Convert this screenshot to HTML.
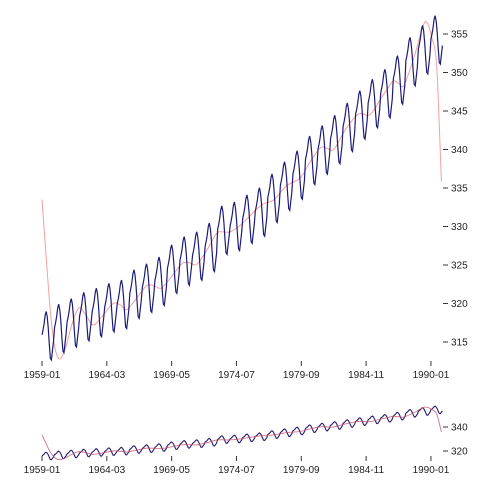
<!DOCTYPE html>
<html><head><meta charset="utf-8"><style>
body{margin:0;background:#fff;}
svg{display:block;font-family:"Liberation Sans",Arial,sans-serif;}
</style></head><body>
<svg id="chart" width="502" height="486"></svg>
<script>
const yearlyMean=[315.97,316.91,317.64,318.45,318.99,319.62,320.04,321.38,322.16,323.04,324.62,325.68,326.32,327.45,329.68,330.18,331.11,332.04,333.83,335.40,336.84,338.75,340.11,341.45,343.05,344.65,346.12,347.42,349.19,351.57,353.12,354.39];
const seasonal=[-0.05,0.6,1.4,2.5,3.0,2.3,0.8,-1.3,-3.1,-3.3,-2.1,-0.9];
const smoothMonths=[0,4,8,12,16.5,22,28,35,42,49,58,68,75,81,90,100,107,114,124,134,141,148,158,167,173,180,190,197,210,222,234,247,256,266,272,279,288,295,302.5,308,312,318,323,330,336,341,345.6,351,357,362,366,369,372.7,377.5,382];
const smoothVals=[333.5,326,319,314.5,312.8,314,317,319.4,318.5,317.2,318.4,320.0,319.8,319.2,320.6,322.3,322.3,322.0,323.5,325.2,325.3,325.1,327,329.1,329.3,329.3,330.2,331.1,332.8,333.5,335.3,336.3,338.3,340.2,340.2,340.0,342.1,343.5,344.6,344.6,344.4,345.2,346.4,347.8,348.9,348.6,348.2,350,352.5,355,356.5,356.3,354.6,350.8,335.8];
const xTickLabels=["1959-01","1964-03","1969-05","1974-07","1979-09","1984-11","1990-01"];
const mainYTicks=[315,320,325,330,335,340,345,350,355];
const subYTicks=[320,340];

const NS="http://www.w3.org/2000/svg";
const svg=document.getElementById('chart');
function el(t,a){const e=document.createElementNS(NS,t);for(const k in a)e.setAttribute(k,a[k]);svg.appendChild(e);return e;}
const blue=[];
yearlyMean.forEach((m,yi)=>seasonal.forEach((s,mi)=>blue.push(m+s)));
const x=i=>42+i*1.0455;
const yMain=v=>34+(355-v)*7.7;
const ySub=v=>427+(340-v)*1.2;
function linePath(ys,xs,fy){return xs.map((xi,k)=>(k?'L':'M')+x(xi).toFixed(2)+','+fy(ys[k]).toFixed(2)).join('');}
function smoothPath(ys,xs,fy){
  const P=xs.map((xi,k)=>[x(xi),fy(ys[k])]);
  let d='M'+P[0][0].toFixed(2)+','+P[0][1].toFixed(2);
  for(let i=0;i<P.length-1;i++){
    const p0=P[i-1]||P[i],p1=P[i],p2=P[i+1],p3=P[i+2]||P[i+1];
    const c1=[p1[0]+(p2[0]-p0[0])/6,p1[1]+(p2[1]-p0[1])/6];
    const c2=[p2[0]-(p3[0]-p1[0])/6,p2[1]-(p3[1]-p1[1])/6];
    d+='C'+c1.map(v=>v.toFixed(2)).join(',')+' '+c2.map(v=>v.toFixed(2)).join(',')+' '+p2.map(v=>v.toFixed(2)).join(',');
  }
  return d;
}
const idx=blue.map((_,i)=>i);

let p=el('path',{d:smoothPath(smoothVals,smoothMonths,yMain),fill:'none',stroke:'#f4a0a0','stroke-width':1});

p=el('path',{d:linePath(blue,idx,yMain),fill:'none',stroke:'#1c1c78','stroke-width':1.2});

p=el('path',{d:linePath(blue,idx,ySub),fill:'none',stroke:'#2a1a6a','stroke-width':1.1});

p=el('path',{d:smoothPath(smoothVals,smoothMonths,ySub),fill:'none',stroke:'#c0506a','stroke-width':0.9,'stroke-opacity':0.8});


function xAxis(y0,name){
  const g=el('g',{});
  xTickLabels.forEach((l,i)=>{
    const m=i*62;
    g.appendChild(el('line',{x1:x(m),x2:x(m),y1:y0,y2:y0+5,stroke:'#333'}));
    const t=el('text',{x:x(m),y:y0+17,'font-size':10,'text-anchor':'middle',fill:'#222'});t.textContent=l;
    g.appendChild(t);
  });
}
xAxis(361,'main-x-axis');xAxis(456,'overview-x-axis');
function yAxis(ticks,fy,name){
  const g=el('g',{});
  ticks.forEach(v=>{
    g.appendChild(el('line',{x1:443,x2:448,y1:fy(v),y2:fy(v),stroke:'#333'}));
    const t=el('text',{x:451,y:fy(v)+3.5,'font-size':10,fill:'#222'});t.textContent=v;
    g.appendChild(t);
  });
}
yAxis(mainYTicks,yMain,'main-y-axis');yAxis(subYTicks,ySub,'overview-y-axis');
</script>
</body></html>
